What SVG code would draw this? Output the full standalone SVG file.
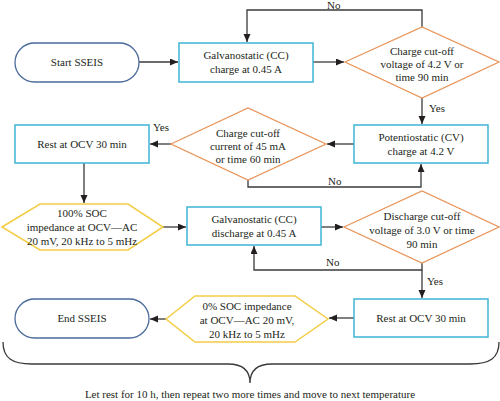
<svg xmlns="http://www.w3.org/2000/svg" width="500" height="401" viewBox="0 0 500 401">
<defs>
<marker id="ah" markerUnits="userSpaceOnUse" markerWidth="9" markerHeight="8" refX="8" refY="3.5" orient="auto">
<path d="M0,0 L8,3.5 L0,7 z" fill="#231f20"/>
</marker>
<style>
text{font-family:"Liberation Serif","Times New Roman",serif;font-size:11px;fill:#231f20;}
.c{text-anchor:middle;}
.box{fill:#fff;stroke:#3fb5d5;stroke-width:1.5;}
.dia{fill:#fff;stroke:#e8955a;stroke-width:1.3;}
.hex{fill:#fff;stroke:#f3cd45;stroke-width:1.5;}
.term{fill:#fff;stroke:#4b6b9b;stroke-width:1.3;}
.ln{fill:none;stroke:#3a3a3a;stroke-width:1.3;}
.ar{marker-end:url(#ah);}
</style>
</defs>
<rect width="500" height="401" fill="#fff"/>
<g id="connectors">
<path class="ln ar" d="M139,62 H178"/>
<path class="ln ar" d="M313,62 H344"/>
<path class="ln ar" d="M422,27 V10 H247 V42"/>
<path class="ln ar" d="M422,98 V124"/>
<path class="ln ar" d="M354,144 H327"/>
<path class="ln ar" d="M171,144 H150"/>
<path class="ln ar" d="M248,180 V187 H421 V164"/>
<path class="ln ar" d="M84,163 V203"/>
<path class="ln ar" d="M163,227 H186"/>
<path class="ln ar" d="M321,227 H343"/>
<path class="ln ar" d="M422,263 V270 H254 V246"/>
<path class="ln ar" d="M422,270 V298"/>
<path class="ln ar" d="M354,318 H329"/>
<path class="ln ar" d="M166,319 H150"/>
<text x="327" y="9">No</text>
<text x="429" y="112">Yes</text>
<text x="153" y="131">Yes</text>
<text x="328" y="185">No</text>
<text x="326" y="266">No</text>
<text x="427" y="285">Yes</text>
</g>
<g id="start">
<rect class="term" x="15" y="43" width="124" height="39" rx="19.5"/>
<text class="c" x="77" y="66">Start SSEIS</text>
</g>
<g id="cc-charge">
<rect class="box" x="179" y="43" width="134" height="39"/>
<text class="c" x="246" y="59">Galvanostatic (CC)</text>
<text class="c" x="246" y="73">charge at 0.45 A</text>
</g>
<g id="charge-voltage-check">
<polygon class="dia" points="345,62 422,27 499,62 422,98"/>
<text class="c" x="422" y="55">Charge cut-off</text>
<text class="c" x="422" y="68">voltage of 4.2 V or</text>
<text class="c" x="422" y="81">time 90 min</text>
</g>
<g id="cv-charge">
<rect class="box" x="354" y="125" width="134" height="38"/>
<text class="c" x="421" y="141">Potentiostatic (CV)</text>
<text class="c" x="421" y="155">charge at 4.2 V</text>
</g>
<g id="charge-current-check">
<polygon class="dia" points="171,144 248,108 326,144 248,180"/>
<text class="c" x="248" y="137">Charge cut-off</text>
<text class="c" x="248" y="150">current of 45 mA</text>
<text class="c" x="248" y="163">or time 60 min</text>
</g>
<g id="rest1">
<rect class="box" x="15" y="125" width="134" height="38"/>
<text class="c" x="82" y="148">Rest at OCV 30 min</text>
</g>
<g id="eis100">
<polygon class="hex" points="2,227 40,204 128,204 163,227 128,250 40,250"/>
<text class="c" x="82" y="217">100% SOC</text>
<text class="c" x="82" y="231">impedance at OCV—AC</text>
<text class="c" x="82" y="245">20 mV, 20 kHz to 5 mHz</text>
</g>
<g id="cc-discharge">
<rect class="box" x="187" y="207" width="134" height="38"/>
<text class="c" x="254" y="223">Galvanostatic (CC)</text>
<text class="c" x="254" y="237">discharge at 0.45 A</text>
</g>
<g id="discharge-check">
<polygon class="dia" points="344,227 422,191 499,227 422,263"/>
<text class="c" x="422" y="220">Discharge cut-off</text>
<text class="c" x="422" y="234">voltage of 3.0 V or time</text>
<text class="c" x="422" y="248">90 min</text>
</g>
<g id="rest2">
<rect class="box" x="354" y="299" width="134" height="38"/>
<text class="c" x="421" y="322">Rest at OCV 30 min</text>
</g>
<g id="eis0">
<polygon class="hex" points="166,319 195,296 295,296 328,319 295,342 195,342"/>
<text class="c" x="247" y="310">0% SOC impedance</text>
<text class="c" x="247" y="324">at OCV—AC 20 mV,</text>
<text class="c" x="247" y="338">20 kHz to 5 mHz</text>
</g>
<g id="end">
<rect class="term" x="15" y="299" width="134" height="39" rx="19.5"/>
<text class="c" x="82" y="322">End SSEIS</text>
</g>
<g id="brace">
<path class="ln" d="M3,342 C3,358 12,364 32,364 L228,364 C244,364 250,372 250,383 C250,372 256,364 272,364 L470,364 C490,364 499,358 499,342"/>
<text class="c" x="250" y="398">Let rest for 10 h, then repeat two more times and move to next temperature</text>
</g>
</svg>
